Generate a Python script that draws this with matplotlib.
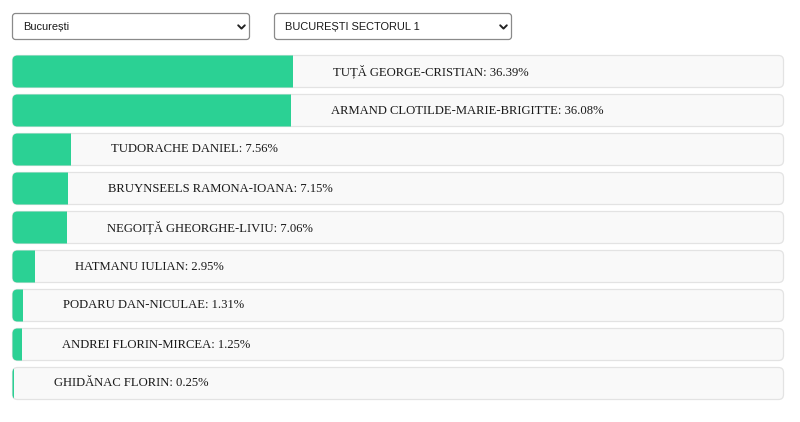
import matplotlib
matplotlib.use("Agg")
import matplotlib.pyplot as plt
from matplotlib.patches import FancyBboxPatch, Rectangle

# candidate names and their vote share (%)
names = ["TUȚĂ GEORGE-CRISTIAN", "ARMAND CLOTILDE-MARIE-BRIGITTE", "TUDORACHE DANIEL",
         "BRUYNSEELS RAMONA-IOANA", "NEGOIȚĂ GHEORGHE-LIVIU", "HATMANU IULIAN",
         "PODARU DAN-NICULAE", "ANDREI FLORIN-MIRCEA", "GHIDĂNAC FLORIN"]
percents = [36.39, 36.08, 7.56, 7.15, 7.06, 2.95, 1.31, 1.25, 0.25]
dropdowns = ["București", "BUCUREȘTI SECTORUL 1"]

W, H = 800, 422
fig = plt.figure(figsize=(W / 100, H / 100), dpi=100)
ax = fig.add_axes([0, 0, 1, 1])
ax.set_xlim(0, W)
ax.set_ylim(H, 0)
ax.axis("off")

# the two select boxes at the top
for i, label in enumerate(dropdowns):
    x0 = 12.5 + i * 262
    box = FancyBboxPatch((x0, 13.5), 237, 26, boxstyle="round,pad=0,rounding_size=3",
                         fc="white", ec="#8a8a8a", lw=0.9)
    ax.add_patch(box)
    ax.text(x0 + 10.5, 27, label, fontsize=7.9, family="Liberation Sans",
            color="#1a1a1a", va="center", ha="left")
    cx = x0 + 229
    ax.plot([cx - 3.3, cx, cx + 3.3], [25.3, 28.6, 25.3], color="#222222", lw=1.4,
            solid_capstyle="round", solid_joinstyle="round")

# bar tracks
track_x, track_w, track_h = 12.5, 771, 32
top0, step = 55.5, 39
for i, (name, p) in enumerate(zip(names, percents)):
    y0 = top0 + i * step
    track = FancyBboxPatch((track_x, y0), track_w, track_h,
                           boxstyle="round,pad=0,rounding_size=5",
                           fc="#f9f9f9", ec="#e3e3e3", lw=0.9)
    ax.add_patch(track)
    bw = track_w * p / 100
    bar = Rectangle((track_x - 1, y0 - 1), bw + 1, track_h + 2, fc="#2bd194", ec="none")
    ax.add_patch(bar)
    bar.set_clip_path(track)
    ax.text(track_x + bw + 40, y0 + track_h / 2, f"{name}: {p:.2f}%",
            fontsize=9.1, family="Liberation Serif", color="#1a1a1a",
            va="center", ha="left")

fig.savefig("out.png", dpi=100, facecolor="white")
